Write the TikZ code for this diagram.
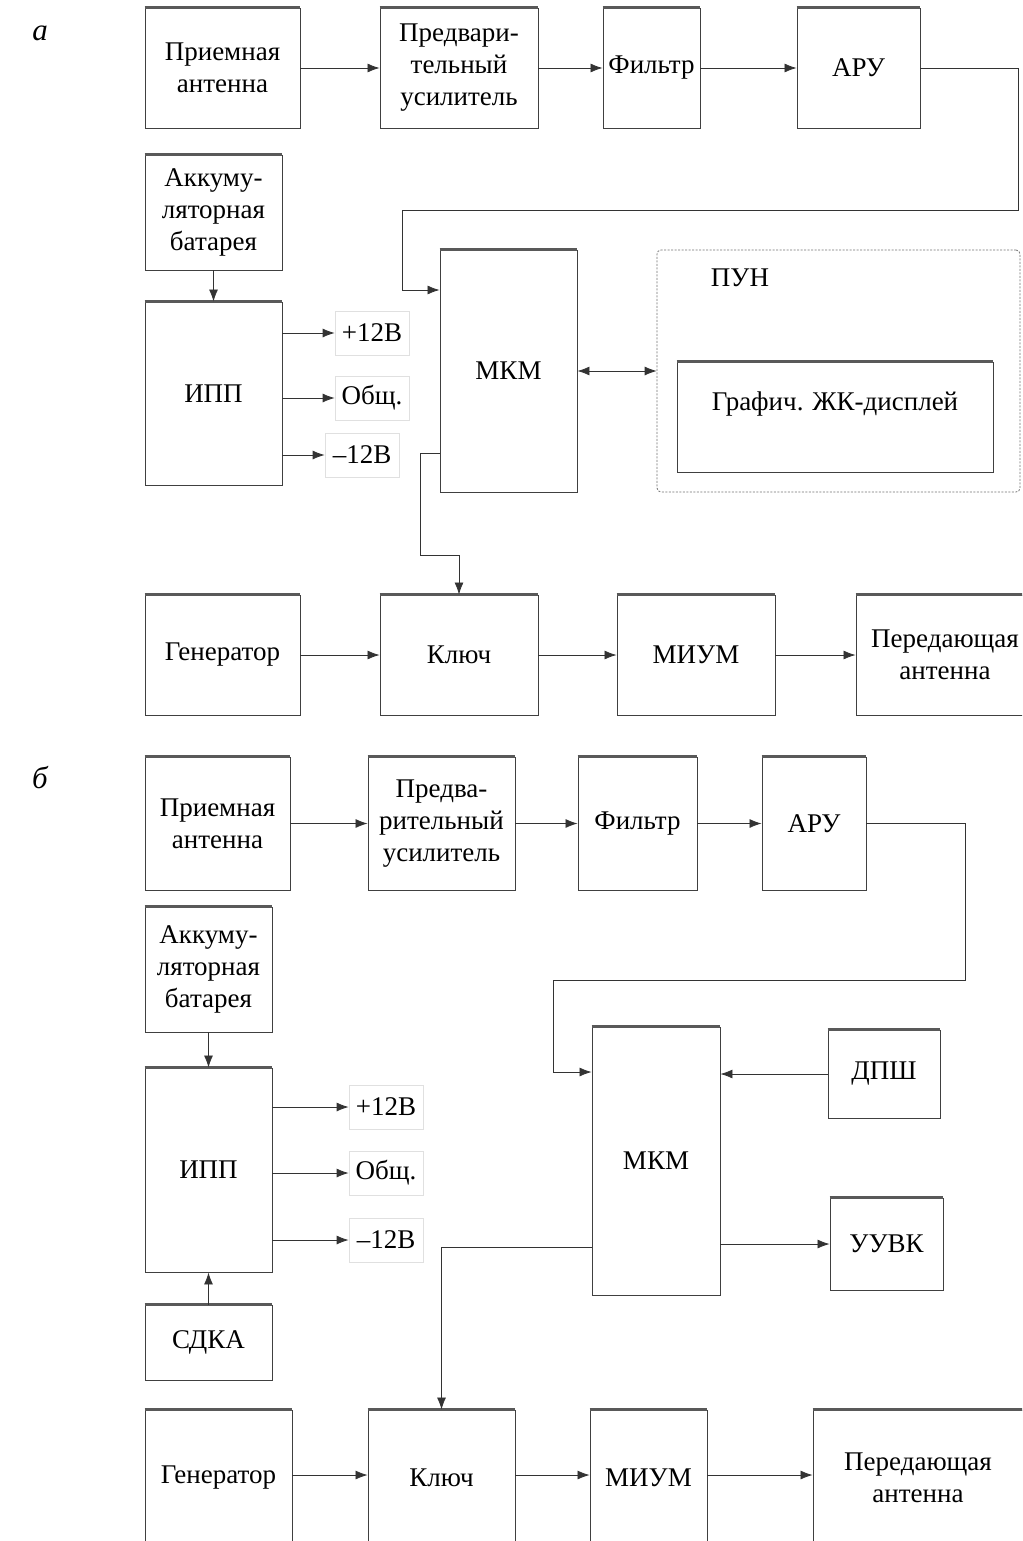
\documentclass[tikz,border=0pt]{standalone}
\usepackage{fontspec}
\setmainfont{Liberation Serif}
\usetikzlibrary{arrows.meta, positioning}

\begin{document}
\begin{tikzpicture}[
    x=1pt, y=-1pt,
    every node/.style={align=center, font=\fontsize{27}{32}\selectfont},
    block/.style={draw=black!75, line width=0.9pt, fill=white, inner sep=2pt,
        append after command={(\tikzlastnode.north west) edge[line width=2.6pt, draw=black!65]
            (\tikzlastnode.north east)}},
    group/.style={draw=black!55, dash pattern=on 2pt off 1.5pt, line width=0.8pt, rounded corners=4pt},
    tap/.style={draw=black!12, line width=0.8pt, minimum width=74pt, minimum height=44pt, inner sep=1pt},
    conn/.style={draw=black!80, line width=0.8pt},
    arrow/.style={conn, -{Latex[length=12pt, width=9pt]}},
    dblarrow/.style={conn, {Latex[length=12pt, width=9pt]}-{Latex[length=12pt, width=9pt]}},
    tag/.style={font=\fontsize{31}{36}\selectfont\itshape}
]

    \useasboundingbox (0,0) rectangle (1022,1541);
    \fill[white] (0,0) rectangle (1022,1541);
    \clip (0,0) rectangle (1022,1541);

    % ---------------- Variant a ----------------
    \node[tag] (tagA) at (40,33) {а};

    % Receive chain
    \node[block, minimum width=155pt, minimum height=120pt] (recA) at (222.5,68) {Приемная\\антенна};
    \node[block, minimum width=158pt, minimum height=120pt] (preA) at (459,68) {Предвари-\\тельный\\усилитель};
    \node[block, minimum width=97pt, minimum height=120pt] (filA) at (651.5,68) {Фильтр};
    \node[block, minimum width=123pt, minimum height=120pt] (aruA) at (858.5,68) {АРУ};

    % Power supply
    \node[block, minimum width=137pt, minimum height=115pt] (batA) at (213.5,212.5) {Аккуму-\\ляторная\\батарея};
    \node[block, minimum width=137pt, minimum height=183pt] (ippA) at (213.5,393.5) {ИПП};
    \node[tap] (plusA) at (372,333) {+12В};
    \node[tap] (commA) at (372,398) {Общ.};
    \node[tap] (minusA) at (362,455) {–12В};

    % Microcontroller and display unit
    \node[block, minimum width=137pt, minimum height=242pt] (mkmA) at (508.5,371) {МКМ};
    \node[group, minimum width=363pt, minimum height=242pt] (punA) at (838.5,371) {};
    \node (punlabelA) at (740,278) {ПУН};
    \node[block, minimum width=316pt, minimum height=110pt] (lcdA) at (835,417) {Графич. ЖК-дисплей\\[0pt]};

    % Transmit chain
    \node[block, minimum width=155pt, minimum height=120pt] (genA) at (222.5,655) {Генератор};
    \node[block, minimum width=158pt, minimum height=120pt] (keyA) at (459,655) {Ключ};
    \node[block, minimum width=158pt, minimum height=120pt] (miumA) at (696,655) {МИУМ};
    \node[block, minimum width=178pt, minimum height=120pt] (txA) at (945,655) {Передающая\\антенна};

    % Arrows
    \draw[arrow] (recA) -- (preA);
    \draw[arrow] (preA) -- (filA);
    \draw[arrow] (filA) -- (aruA);
    \draw[arrow] (aruA.east) -| (1018,210) -| (402,290) -- (mkmA.west |- 402,290);
    \draw[arrow] (batA) -- (ippA);
    \draw[arrow] (ippA.east |- plusA) -- (plusA);
    \draw[arrow] (ippA.east |- commA) -- (commA);
    \draw[arrow] (ippA.east |- minusA) -- (minusA);
    \draw[dblarrow] (mkmA) -- (punA);
    \draw[arrow] (mkmA.west |- 0,453) -| (420,555) -| (keyA.north);
    \draw[arrow] (genA) -- (keyA);
    \draw[arrow] (keyA) -- (miumA);
    \draw[arrow] (miumA) -- (txA);

    % ---------------- Variant b ----------------
    \node[tag] (tagB) at (40,778) {б};

    % Receive chain
    \node[block, minimum width=145pt, minimum height=133pt] (recB) at (217.5,823.5) {Приемная\\антенна};
    \node[block, minimum width=147pt, minimum height=133pt] (preB) at (441.5,823.5) {Предва-\\рительный\\усилитель};
    \node[block, minimum width=119pt, minimum height=133pt] (filB) at (637.5,823.5) {Фильтр};
    \node[block, minimum width=104pt, minimum height=133pt] (aruB) at (814,823.5) {АРУ};

    % Power supply
    \node[block, minimum width=127pt, minimum height=125pt] (batB) at (208.5,969.5) {Аккуму-\\ляторная\\батарея};
    \node[block, minimum width=127pt, minimum height=204pt] (ippB) at (208.5,1170) {ИПП};
    \node[block, minimum width=127pt, minimum height=75pt] (sdkaB) at (208.5,1342.5) {СДКА};
    \node[tap] (plusB) at (386,1107) {+12В};
    \node[tap] (commB) at (386,1173) {Общ.};
    \node[tap] (minusB) at (386,1240) {–12В};

    % Microcontroller and peripherals
    \node[block, minimum width=128pt, minimum height=268pt] (mkmB) at (656,1161) {МКМ};
    \node[block, minimum width=112pt, minimum height=88pt] (dpshB) at (884,1074) {ДПШ};
    \node[block, minimum width=113pt, minimum height=92pt] (uuvkB) at (886.5,1244) {УУВК};

    % Transmit chain
    \node[block, minimum width=147pt, minimum height=136pt] (genB) at (218.5,1478) {Генератор};
    \node[block, minimum width=147pt, minimum height=136pt] (keyB) at (441.5,1478) {Ключ};
    \node[block, minimum width=117pt, minimum height=136pt] (miumB) at (648.5,1478) {МИУМ};
    \node[block, minimum width=210pt, minimum height=136pt] (txB) at (918,1478) {Передающая\\антенна};

    % Arrows
    \draw[arrow] (recB) -- (preB);
    \draw[arrow] (preB) -- (filB);
    \draw[arrow] (filB) -- (aruB);
    \draw[arrow] (aruB.east) -| (965,980) -| (553,1072) -- (mkmB.west |- 553,1072);
    \draw[arrow] (batB) -- (ippB);
    \draw[arrow] (sdkaB) -- (ippB);
    \draw[arrow] (ippB.east |- plusB) -- (plusB);
    \draw[arrow] (ippB.east |- commB) -- (commB);
    \draw[arrow] (ippB.east |- minusB) -- (minusB);
    \draw[arrow] (dpshB.west) -- (mkmB.east |- dpshB.west);
    \draw[arrow] (mkmB.east |- uuvkB.west) -- (uuvkB.west);
    \draw[arrow] (mkmB.west |- 0,1247) -| (keyB.north);
    \draw[arrow] (genB.east |- 0,1475) -- (keyB.west |- 0,1475);
    \draw[arrow] (keyB.east |- 0,1475) -- (miumB.west |- 0,1475);
    \draw[arrow] (miumB.east |- 0,1475) -- (txB.west |- 0,1475);

\end{tikzpicture}
\end{document}
